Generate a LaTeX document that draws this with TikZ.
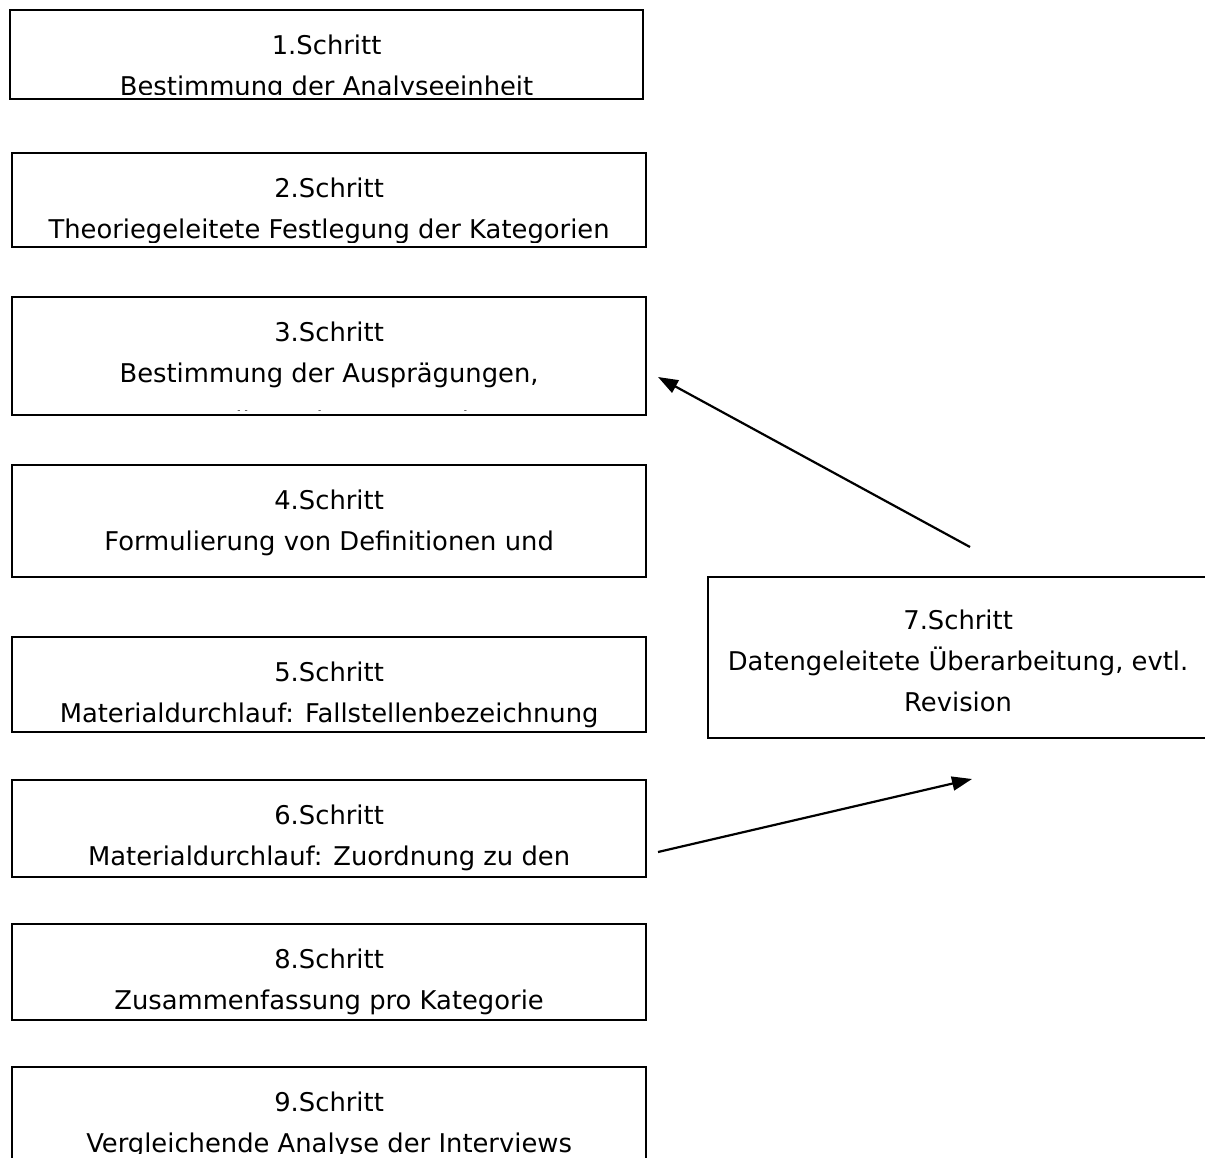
\documentclass[tikz,border=0pt]{standalone}
\usepackage{fontspec}
\setmainfont{DejaVu Sans}
\usetikzlibrary{arrows.meta}
\begin{document}
\begin{tikzpicture}[x=0.5pt,y=-0.5pt,
  box/.style={draw=black, line width=1.1pt, anchor=north west, inner sep=0pt, minimum width=317pt},
  txt/.style={anchor=base, inner sep=0pt, font=\fontsize{12.9pt}{15pt}\selectfont, text=black},
  arr/.style={line width=1.1pt, -{Triangle[length=10pt,width=7pt]}}]
\useasboundingbox (0,0) rectangle (1205,1157);
\fill[white] (0,0) rectangle (1205,1157);

% boxes
\node[box, minimum width=316.5pt, minimum height=44.5pt] (b1) at (9,9) {};
\node[box, minimum height=47pt] (b2) at (11,152) {};
\node[box, minimum height=59pt] (b3) at (11,296) {};
\node[box, minimum height=56pt] (b4) at (11,464) {};
\node[box, minimum height=47.5pt] (b5) at (11,636) {};
\node[box, minimum height=48.5pt] (b6) at (11,779) {};
\node[box, minimum height=48pt] (b8) at (11,923) {};
\node[box, minimum height=60pt] (b9) at (11,1066) {};
\node[box, minimum width=250pt, minimum height=80.5pt] (b7) at (707,576) {};

% texts (clipped to the box interiors)
\begin{scope}
\clip ([yshift=3pt]b1.south west) rectangle (b1.north east);
\node[txt] (t1a) at ([yshift=-22.5pt]b1.north) {1.Schritt};
\node[txt] (t1b) at ([yshift=-43pt]b1.north) {Bestimmung der Analyseeinheit};
\end{scope}
\begin{scope}
\clip ([yshift=3pt]b2.south west) rectangle (b2.north east);
\node[txt] (t2a) at ([yshift=-22.5pt]b2.north) {2.Schritt};
\node[txt] (t2b) at ([yshift=-43pt]b2.north) {Theoriegeleitete Festlegung der Kategorien};
\end{scope}
\begin{scope}
\clip ([yshift=3pt]b3.south west) rectangle (b3.north east);
\node[txt] (t3a) at ([yshift=-22.5pt]b3.north) {3.Schritt};
\node[txt] (t3b) at ([yshift=-43pt]b3.north) {Bestimmung der Ausprägungen,};
\node[txt] (t3c) at ([yshift=-67pt]b3.north) {Zusammenstellung des Kategoriensystems};
\end{scope}
\begin{scope}
\clip ([yshift=3pt]b4.south west) rectangle (b4.north east);
\node[txt] (t4a) at ([yshift=-22.5pt]b4.north) {4.Schritt};
\node[txt] (t4b) at ([yshift=-43pt]b4.north) {Formulierung von Definitionen und};
\end{scope}
\begin{scope}
\clip ([yshift=3pt]b5.south west) rectangle (b5.north east);
\node[txt] (t5a) at ([yshift=-22.5pt]b5.north) {5.Schritt};
\node[txt] (t5b) at ([yshift=-43pt]b5.north) {Materialdurchlauf: Fallstellenbezeichnung};
\end{scope}
\begin{scope}
\clip ([yshift=3pt]b6.south west) rectangle (b6.north east);
\node[txt] (t6a) at ([yshift=-22.5pt]b6.north) {6.Schritt};
\node[txt] (t6b) at ([yshift=-43pt]b6.north) {Materialdurchlauf: Zuordnung zu den};
\end{scope}
\begin{scope}
\clip ([yshift=3pt]b8.south west) rectangle (b8.north east);
\node[txt] (t8a) at ([yshift=-22.5pt]b8.north) {8.Schritt};
\node[txt] (t8b) at ([yshift=-43pt]b8.north) {Zusammenfassung pro Kategorie};
\end{scope}
\begin{scope}
\clip (0,1066) rectangle (1205,1153);
\node[txt] (t9a) at ([yshift=-22.5pt]b9.north) {9.Schritt};
\node[txt] (t9b) at ([yshift=-43pt]b9.north) {Vergleichende Analyse der Interviews};
\end{scope}
\node[txt] (t7a) at ([yshift=-26.5pt]b7.north) {7.Schritt};
\node[txt] (t7b) at ([yshift=-47pt]b7.north) {Datengeleitete Überarbeitung, evtl.};
\node[txt] (t7c) at ([yshift=-67.5pt]b7.north) {Revision};

% connectors
\coordinate (a1s) at (970,547);
\coordinate (a1e) at (658,377);
\coordinate (a2s) at (658,852);
\coordinate (a2e) at (972,779);
\draw[arr] (a1s) -- (a1e);
\draw[arr] (a2s) -- (a2e);
\end{tikzpicture}
\end{document}
